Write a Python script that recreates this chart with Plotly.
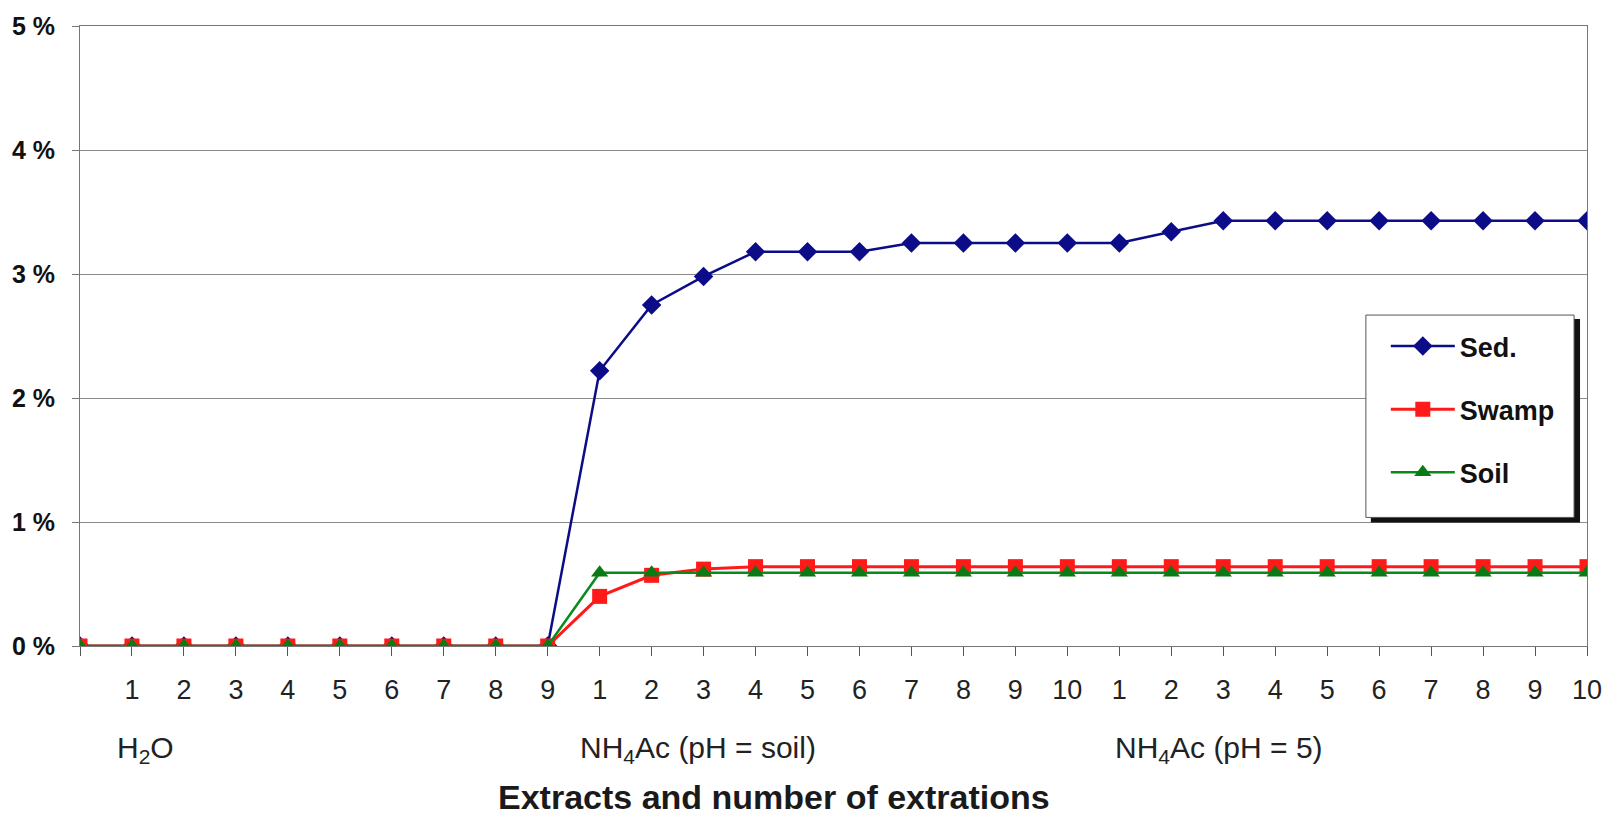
import plotly.graph_objects as go

# ---- data ----
tick_labels = [""] + [str(i) for i in range(1, 10)] + [str(i) for i in range(1, 11)] + [str(i) for i in range(1, 11)]
x_idx = list(range(len(tick_labels)))

sed = [0, 0, 0, 0, 0, 0, 0, 0, 0, 0,
       2.22, 2.75, 2.98, 3.18, 3.18, 3.18, 3.25, 3.25, 3.25, 3.25,
       3.25, 3.34, 3.43, 3.43, 3.43, 3.43, 3.43, 3.43, 3.43, 3.43]
swamp = [0, 0, 0, 0, 0, 0, 0, 0, 0, 0,
         0.40, 0.57, 0.62, 0.64, 0.64, 0.64, 0.64, 0.64, 0.64, 0.64,
         0.64, 0.64, 0.64, 0.64, 0.64, 0.64, 0.64, 0.64, 0.64, 0.64]
soil = [0, 0, 0, 0, 0, 0, 0, 0, 0, 0,
        0.59, 0.59, 0.59, 0.59, 0.59, 0.59, 0.59, 0.59, 0.59, 0.59,
        0.59, 0.59, 0.59, 0.59, 0.59, 0.59, 0.59, 0.59, 0.59, 0.59]

group_labels = ["H<sub>2</sub>O", "NH<sub>4</sub>Ac (pH = soil)", "NH<sub>4</sub>Ac (pH = 5)"]
group_centers = [1.26, 11.90, 21.92]

y_ticks = [0, 1, 2, 3, 4, 5]
y_labels = ["0 %", "1 %", "2 %", "3 %", "4 %", "5 %"]

x_title = "<b>Extracts and number of extrations</b>"

# ---- layout geometry (pixels) ----
W, H = 1614, 822
L, R, T, B = 77, 24, 24, 176
PW, PH = W - L - R, H - T - B


def px_x(p):
    return (p - L) / PW


def px_y(p):
    return 1 - (p - T) / PH


FONT = "Liberation Sans, Arial, sans-serif"

fig = go.Figure()
fig.add_trace(go.Scatter(x=x_idx, y=sed, name="Sed.", mode="lines+markers", legendgroup="a",
                         line=dict(color="#0c0c88", width=2.5),
                         marker=dict(symbol="diamond", size=15, color="#0c0c88")))
fig.add_trace(go.Scatter(x=x_idx, y=swamp, name="Swamp", mode="lines+markers", legendgroup="b",
                         line=dict(color="#ff1a1a", width=3),
                         marker=dict(symbol="square", size=15, color="#ff1a1a")))
fig.add_trace(go.Scatter(x=x_idx, y=soil, name="Soil", mode="lines+markers", legendgroup="c",
                         line=dict(color="#0a8a1a", width=2.5),
                         marker=dict(symbol="triangle-up", size=15, color="#0a7a14")))

shapes = [
    # legend shadow
    dict(type="rect", xref="paper", yref="paper", layer="above",
         x0=px_x(1373), x1=px_x(1583), y0=px_y(522), y1=px_y(318),
         fillcolor="#111111", line=dict(width=0)),
    # legend box
    dict(type="rect", xref="paper", yref="paper", layer="above",
         x0=px_x(1368), x1=px_x(1577), y0=px_y(517), y1=px_y(314),
         fillcolor="white", line=dict(color="#555555", width=1)),
]

annotations = []
for lab, c in zip(group_labels, group_centers):
    annotations.append(dict(x=c, xref="x", y=px_y(750), yref="paper", text=lab,
                            showarrow=False, xanchor="center", yanchor="middle",
                            font=dict(family=FONT, size=30, color="#222222")))
annotations.append(dict(x=px_x(495), xref="paper", y=px_y(797), yref="paper", text=x_title,
                        showarrow=False, xanchor="left", yanchor="middle",
                        font=dict(family=FONT, size=34, color="#1a1a1a")))

fig.update_layout(
    width=W, height=H,
    margin=dict(l=L, r=R, t=T, b=B),
    paper_bgcolor="white", plot_bgcolor="white",
    font=dict(family=FONT, color="#222222"),
    showlegend=True,
    legend=dict(x=px_x(1388), y=px_y(321), xanchor="left", yanchor="top",
                bgcolor="rgba(0,0,0,0)", borderwidth=0,
                font=dict(family=FONT, size=27, color="#111111", weight="bold"),
                tracegroupgap=25, itemwidth=64),
    shapes=shapes,
    annotations=annotations,
    xaxis=dict(range=[0, 29], tickmode="array", tickvals=x_idx, ticktext=tick_labels,
               showgrid=False, zeroline=False, showline=True, linecolor="#777777", linewidth=1,
               mirror=True, ticks="outside", ticklen=9, tickcolor="#555555",
               ticklabelstandoff=11,
               tickfont=dict(family=FONT, size=27, color="#222222")),
    yaxis=dict(range=[0, 5], tickmode="array", tickvals=y_ticks, ticktext=y_labels,
               showgrid=True, gridcolor="#8a8a8a", gridwidth=1, zeroline=False,
               showline=True, linecolor="#777777", linewidth=1, mirror=True,
               ticks="outside", ticklen=7, tickcolor="#777777", ticklabelstandoff=12,
               tickfont=dict(family=FONT, size=25, color="#111111", weight="bold")),
)

fig.write_html("out.html")
